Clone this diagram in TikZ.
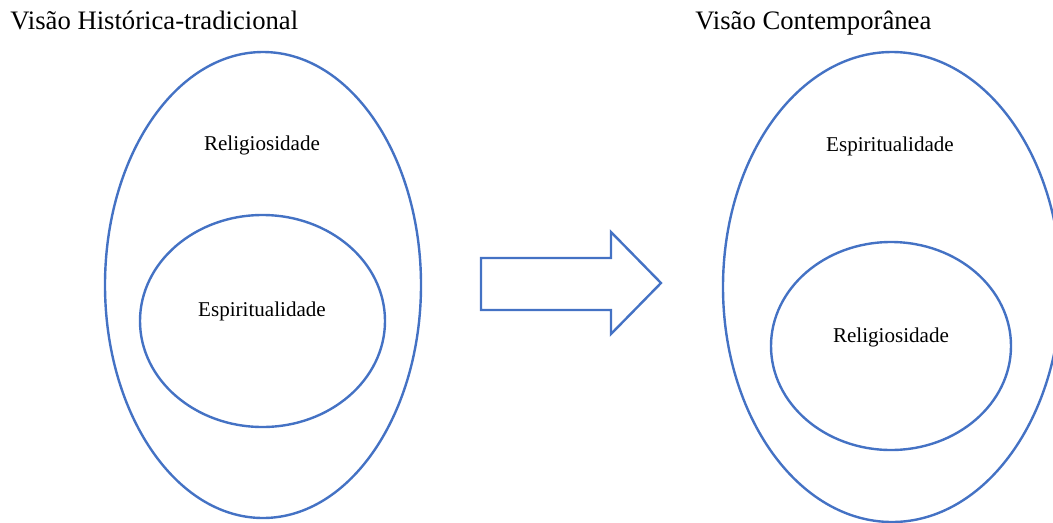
\documentclass[tikz,border=0pt]{standalone}
\usepackage{fontspec}
\setmainfont{Liberation Serif}
\definecolor{officeblue}{HTML}{4472C4}
\usetikzlibrary{positioning}
\tikzset{
	oval/.style={officeblue, line width=1.8pt},
	label text/.style={font=\fontsize{15.8}{18}\selectfont, inner sep=0pt, anchor=base},
	title text/.style={font=\fontsize{20}{24}\selectfont, inner sep=0pt, anchor=base west}
}
\begin{document}
\begin{tikzpicture}[x=0.75pt, y=-0.75pt]
			\useasboundingbox (0,0) rectangle (1053,522);
			\pgfmathsetmacro{\outerrx}{158}
			\pgfmathsetmacro{\outerry}{233}
			% Titles
			\node[title text] (histtitle) at (10,29) {Visão Histórica-tradicional};
			\node[title text] (conttitle) at (695,29) {Visão Contemporânea};
			
			% Left: historic view
			\draw[oval] (263,285) ellipse ({\outerrx} and {\outerry});
			\draw[oval] (262.5,321) ellipse (122.5 and 106);
			\node[label text] (relleft) at (262,150) {Religiosidade};
			\node[label text] (espleft) at (262,316) {Espiritualidade};
			
			% Right: contemporary view
			\draw[oval] (892,287) ellipse (169 and 235);
			\draw[oval] (891,346) ellipse (120 and 104);
			\node[label text] (espright) at (890,151) {Espiritualidade};
			\node[label text] (relright) at (891,342) {Religiosidade};
			
			% Block arrow
			\draw[oval, line join=miter] (481,258) -- (611,258) -- (611,232) -- (661,283)
				-- (611,334) -- (611,310) -- (481,310) -- cycle;
		\end{tikzpicture}
\end{document}
